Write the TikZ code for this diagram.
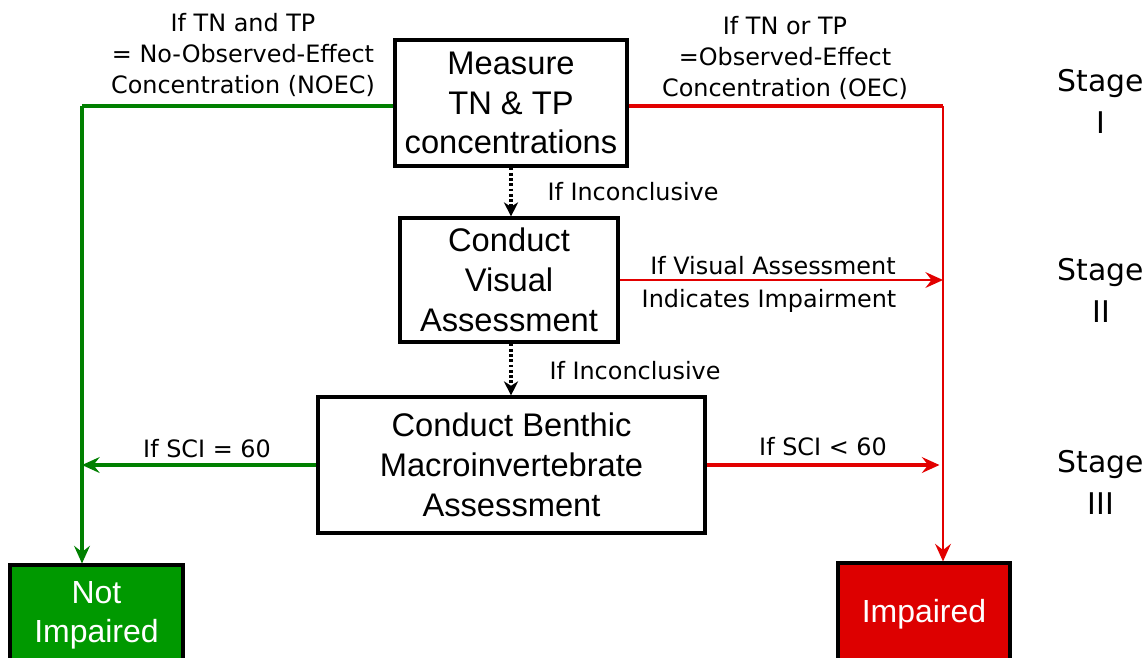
\documentclass[tikz,border=0pt]{standalone}
\usepackage{fontspec}
\setmainfont{Liberation Sans}
\newfontfamily\lblfont{DejaVu Sans}
\usetikzlibrary{arrows.meta}
\definecolor{okgreen}{RGB}{0,128,0}
\definecolor{okfill}{RGB}{0,153,0}
\definecolor{badred}{RGB}{226,0,0}
\definecolor{badfill}{RGB}{221,0,0}

\begin{document}
\begin{tikzpicture}[x=0.02cm,y=-0.02cm,
    box/.style={draw=black,line width=1.8pt,align=center,inner sep=0pt,
      font=\fontsize{18.6}{22.7}\selectfont},
    endbox/.style={box,text=white,font=\fontsize{18.2}{22}\selectfont},
    lbl/.style={align=center,inner sep=0pt,font=\lblfont\fontsize{13.6}{17.6}\selectfont},
    stagelbl/.style={align=center,inner sep=0pt,font=\lblfont\fontsize{17}{23.8}\selectfont},
    gline/.style={okgreen,line width=1.9pt},
    rline/.style={badred,line width=1.2pt},
    tip/.style={-{Stealth[length=10pt,width=9pt,inset=3.5pt]}},
    dotarrow/.style={black,line width=2pt,dash pattern=on 1.6pt off 1.4pt,-{Stealth[length=8pt,width=8pt,inset=2.5pt]}}]
  \useasboundingbox (0,0) rectangle (1148,657);
  \node[box,minimum width=4.64cm,minimum height=2.52cm] (measure) at (511,103) {Measure\\TN \& TP\\concentrations};
  \node[box,minimum width=4.36cm,minimum height=2.48cm] (visual) at (509,280) {Conduct\\Visual\\Assessment};
  \node[box,minimum width=7.74cm,minimum height=2.72cm] (benthic) at (511.5,465) {Conduct Benthic\\Macroinvertebrate\\Assessment};
  \node[endbox,fill=okfill,minimum width=3.46cm,minimum height=2cm] (notimp) at (96.5,615) {Not\\Impaired};
  \node[endbox,fill=badfill,minimum width=3.44cm,minimum height=2.04cm] (imp) at (924,614) {Impaired};
  \coordinate (gcorner) at (82,106);
  \coordinate (rcorner) at (943,106);

  \draw[gline] (measure.west |- gcorner) -- (gcorner);
  \draw[gline,tip] (gcorner) -- (gcorner |- notimp.north);
  \draw[badred,line width=1.9pt] (measure.east |- rcorner) -- (rcorner);
  \draw[rline,tip] (rcorner) -- (rcorner |- imp.north);
  \draw[dotarrow] (measure.south) -- (measure.south |- visual.north);
  \draw[dotarrow] (measure.south |- visual.south) -- (measure.south |- benthic.north);
  \draw[rline,tip] (visual.east) -- (visual.east -| rcorner);
  \draw[badred,line width=2.4pt,tip,shorten >=2pt] (benthic.east) -- (benthic.east -| rcorner);
  \draw[gline,tip] (benthic.west) -- (benthic.west -| gcorner);

  \node[lbl] (noec) at (243,55) {If TN and TP\\= No-Observed-Effect\\Concentration (NOEC)};
  \node[lbl] (oec) at (785,58) {If TN or TP\\=Observed-Effect\\Concentration (OEC)};
  \node[lbl] (inc1) at (633,192) {If Inconclusive};
  \node[lbl] (inc2) at (635,371) {If Inconclusive};
  \node[lbl] (vis1) at (773,266) {If Visual Assessment};
  \node[lbl] (vis2) at (769,301) {Indicates Impairment};
  \node[lbl] (scieq) at (207,449) {If SCI = 60};
  \node[lbl] (scilt) at (823,447) {If SCI < 60};

  \node[stagelbl] (stage1) at (1101,101) {Stage\\I};
  \node[stagelbl] (stage2) at (1101,290) {Stage\\II};
  \node[stagelbl] (stage3) at (1101,482) {Stage\\III};
\end{tikzpicture}
\end{document}
